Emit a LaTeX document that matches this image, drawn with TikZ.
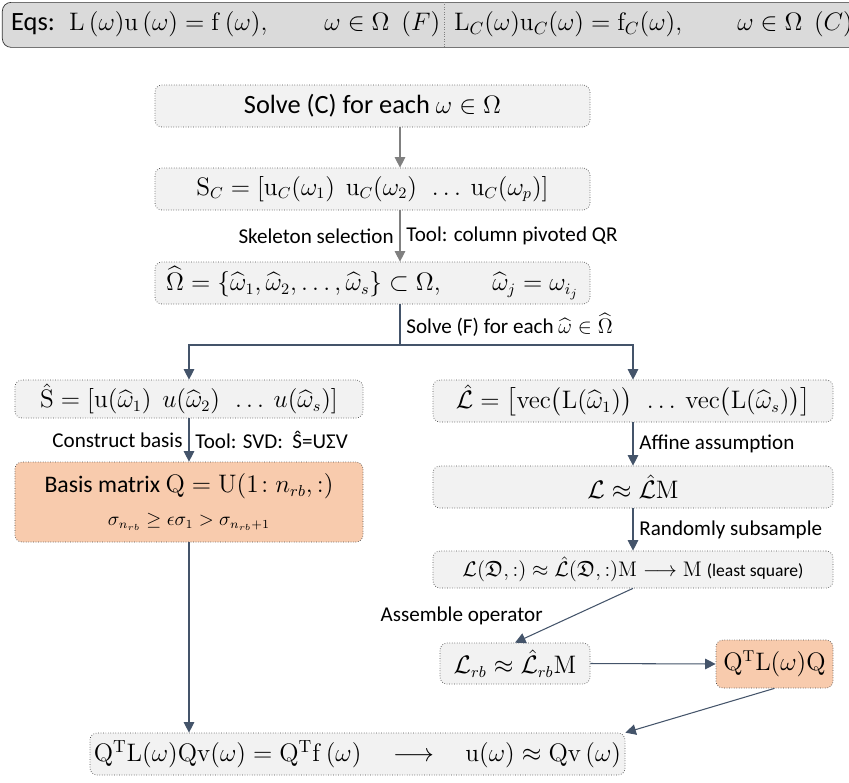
\documentclass[tikz,border=0pt]{standalone}
\usepackage{amsmath,amssymb}
\usepackage[no-math]{fontspec}
\setmainfont{Carlito}
\usetikzlibrary{positioning,arrows.meta,calc}
\definecolor{boxgray}{RGB}{242,242,242}
\definecolor{barfill}{RGB}{218,218,218}
\definecolor{basisorange}{RGB}{248,203,173}
\definecolor{flowblue}{RGB}{68,84,106}
\begin{document}
\begin{tikzpicture}[
  box/.style={draw=gray!60!black, densely dotted, rounded corners=4pt, fill=boxgray,
    minimum height=0.84cm, inner sep=2pt, font=\fontsize{13.5}{16}\selectfont},
  hibox/.style={box, fill=basisorange},
  bar/.style={draw=black!80, fill=barfill, rounded corners=5pt},
  eqtext/.style={anchor=west, font=\fontsize{15}{18}\selectfont},
  link/.style={draw=flowblue, semithick, -{Triangle[width=6pt,length=6pt]}},
  greylink/.style={link, draw=gray},
  lab/.style={font=\fontsize{12}{14}\selectfont}
]
\useasboundingbox (0,0) rectangle (16.98,-15.64);
% equations bar
\node[bar, minimum width=17.4cm, minimum height=0.9cm, anchor=north west] (eqbar) at (0.04,-0.04) {};
\coordinate (divx) at (8.88,0);
\draw[densely dotted, gray] (eqbar.north -| divx) -- (eqbar.south -| divx);
\node[eqtext] (eqs) at (0.1,-0.48) {Eqs:};
\node[eqtext] (eqF) at (1.26,-0.48)
  {$\mathrm{L}\,(\omega)\mathrm{u}\,(\omega)=\mathrm{f}\,(\omega),\qquad\omega\in\Omega\ \ (F)$};
\node[eqtext, font=\fontsize{14.5}{17}\selectfont] (eqC) at (8.96,-0.48)
  {$\mathrm{L}_C(\omega)\mathrm{u}_C(\omega)=\mathrm{f}_C(\omega),\qquad\omega\in\Omega\ \ (C)$};
% main column
\node[box, minimum width=8.7cm, font=\fontsize{15}{18}\selectfont] (solveC) at (7.45,-2.12) {Solve (C) for each $\omega\in\Omega$};
\node[box, minimum width=8.7cm] (SC) at (7.45,-3.78)
  {$\mathrm{S}_C=[\mathrm{u}_C(\omega_1)\ \ \mathrm{u}_C(\omega_2)\ \ \ldots\ \mathrm{u}_C(\omega_p)]$};
\node[box, minimum width=8.7cm] (omega) at (7.45,-5.66)
  {$\widehat{\Omega}=\{\widehat{\omega}_1,\widehat{\omega}_2,\ldots,\widehat{\omega}_s\}\subset\Omega,\qquad \widehat{\omega}_j=\omega_{i_j}$};
% left branch
\node[box, minimum width=6.96cm, minimum height=0.76cm] (Shat) at (3.78,-7.98)
  {$\hat{\mathrm{S}}=[\mathrm{u}(\widehat{\omega}_1)\ \ u(\widehat{\omega}_2)\ \ \ldots\ u(\widehat{\omega}_s)]$};
\node[hibox, minimum width=6.96cm, minimum height=1.6cm, align=center] (basis) at (3.78,-10.04)
  {Basis matrix $\mathrm{Q}=\mathrm{U}(1\!:n_{rb},:)$\\[3pt]{\fontsize{10.5}{12}\selectfont$\sigma_{n_{rb}}\ge\epsilon\sigma_1>\sigma_{n_{rb}+1}$}};
% right branch
\node[box, minimum width=8cm] (Lhat) at (12.66,-8.02)
  {$\hat{\mathcal{L}}=\bigl[\mathrm{vec}\bigl(\mathrm{L}(\widehat{\omega}_1)\bigr)\ \ \ldots\ \mathrm{vec}\bigl(\mathrm{L}(\widehat{\omega}_s)\bigr)\bigr]$};
\node[box, minimum width=8cm] (LM) at (12.66,-9.74) {$\mathcal{L}\approx\hat{\mathcal{L}}\mathrm{M}$};
\node[box, minimum width=8cm, minimum height=0.74cm, font=\fontsize{12.5}{15}\selectfont] (LD) at (12.66,-11.39)
  {$\mathcal{L}(\mathfrak{D},:)\approx\hat{\mathcal{L}}(\mathfrak{D},:)\mathrm{M}\longrightarrow\mathrm{M}$ {\fontsize{10}{12}\selectfont(least square)}};
\node[box, minimum width=3cm, minimum height=0.82cm] (Lrb) at (10.3,-13.27)
  {$\mathcal{L}_{rb}\approx\hat{\mathcal{L}}_{rb}\mathrm{M}$};
\node[hibox, minimum width=2.34cm, minimum height=0.96cm] (QLQ) at (15.49,-13.28)
  {$\mathrm{Q}^{\mathrm{T}}\mathrm{L}(\omega)\mathrm{Q}$};
% reduced system
\node[box, minimum width=10.7cm, font=\fontsize{14}{17}\selectfont] (final) at (7.15,-15.08)
  {$\mathrm{Q}^{\mathrm{T}}\mathrm{L}(\omega)\mathrm{Qv}(\omega)=\mathrm{Q}^{\mathrm{T}}\mathrm{f}\,(\omega)\quad\longrightarrow\quad\mathrm{u}(\omega)\approx\mathrm{Qv}\,(\omega)$};
% connectors
\coordinate (trunk) at (8,0);
\coordinate (split) at (0,-6.9);
\draw[greylink] (solveC.south -| trunk) -- (SC.north -| trunk);
\draw[greylink] (SC.south -| trunk) -- node[lab,left]{Skeleton selection} node[lab,right]{Tool: column pivoted QR} (omega.north -| trunk);
\draw[draw=flowblue, semithick] (omega.south -| trunk) -- node[lab,right]{Solve (F) for each $\widehat{\omega}\in\widehat{\Omega}$} (trunk |- split);
\draw[link] (trunk |- split) -| (Shat.north);
\draw[link] (trunk |- split) -| (Lhat.north);
\draw[link] (Shat.south) -- node[lab,left]{Construct basis} node[lab,right]{Tool: SVD:\ \ Ŝ=UΣV} (basis.north);
\draw[link] (Lhat.south) -- node[lab,right]{Affine assumption} (LM.north);
\draw[link] (LM.south) -- node[lab,right]{Randomly subsample} (LD.north);
\draw[link] (LD.south) -- node[lab,left,xshift=-0.5cm]{Assemble operator} (Lrb.north);
\draw[link] (Lrb.east) -- (QLQ.west);
\draw[link] (QLQ.south) -- (final.north east);
\draw[link] (basis.south) -- (basis.south |- final.north);
\end{tikzpicture}
\end{document}
